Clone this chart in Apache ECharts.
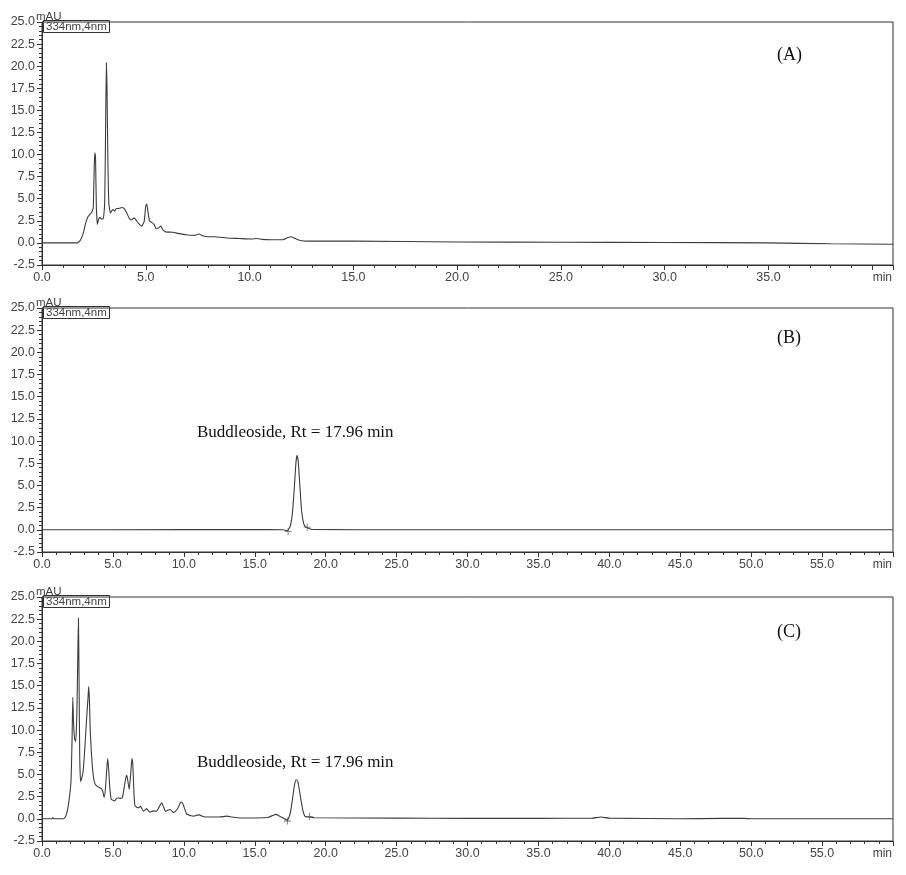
<!DOCTYPE html>
<html>
<head>
<meta charset="utf-8">
<script src="https://cdn.jsdelivr.net/npm/echarts@6/dist/echarts.min.js"></script>
<style>
	html, body { margin: 0; padding: 0; background: #fff; }
	#chart { width: 906px; height: 875px; }
</style>
</head>
<body>
<div id="chart"></div>
<script>
// chromatogram (A): sample trace, run to 41 min
const timeA = [0, 1.0, 1.7, 1.85, 2.0, 2.1, 2.2, 2.3, 2.4, 2.47, 2.52, 2.55, 2.58, 2.62, 2.67, 2.72, 2.78, 2.87, 2.95,
	3.02, 3.06, 3.10, 3.13, 3.17, 3.22, 3.3, 3.42, 3.5, 3.58, 3.7, 3.85, 3.95, 4.08, 4.2, 4.3, 4.42, 4.5, 4.65, 4.8, 4.92,
	5.0, 5.05, 5.1, 5.18, 5.3, 5.4, 5.5, 5.62, 5.72, 5.82, 5.95, 6.3, 6.6, 7.0, 7.35, 7.55, 7.75, 8.0, 8.3, 8.9, 9.5,
	10.1, 10.35, 10.6, 11.0, 11.6, 11.85, 12.0, 12.15, 12.4, 12.8, 15, 20, 25, 30, 35, 38, 41];
const absA = [0, 0, 0, 0.3, 1.2, 2.2, 2.9, 3.2, 3.5, 4.0, 9.0, 10.2, 9.5, 4.0, 2.1, 2.6, 2.9, 2.7, 2.7,
	4.5, 12.0, 20.4, 18.0, 10.0, 4.5, 3.4, 3.8, 3.6, 3.9, 3.9, 4.0, 3.9, 3.4, 2.8, 2.6, 2.8, 2.7, 2.2, 1.9, 2.4,
	4.2, 4.4, 3.6, 2.5, 2.3, 2.1, 1.6, 1.7, 1.9, 1.5, 1.25, 1.2, 1.05, 0.9, 0.85, 1.0, 0.8, 0.7, 0.7, 0.55, 0.5,
	0.45, 0.5, 0.4, 0.35, 0.35, 0.6, 0.7, 0.55, 0.3, 0.2, 0.2, 0.1, 0.08, 0.05, 0.0, -0.1, -0.15];

// chromatogram (B): buddleoside standard
const timeB = [0, 10, 16, 17.0, 17.3, 17.5, 17.65, 17.78, 17.9, 17.98, 18.06, 18.18, 18.3, 18.45, 18.6, 18.75, 19, 25, 60];
const absB = [0, 0.02, 0.03, 0.0, -0.1, 0.4, 1.8, 4.5, 7.5, 8.4, 7.8, 5.0, 2.2, 0.7, 0.3, 0.2, 0.05, 0, 0];

// chromatogram (C): sample trace, run to 60 min
const timeC = [0, 0.7, 0.76, 0.82, 1.5, 1.65, 1.8, 1.94, 2.05, 2.12, 2.17, 2.22, 2.3, 2.38, 2.46, 2.52, 2.57, 2.61, 2.66,
	2.72, 2.8, 2.88, 2.98, 3.07, 3.17, 3.24, 3.29, 3.34, 3.4, 3.48, 3.55, 3.65, 3.75, 3.95, 4.18, 4.3, 4.38, 4.48, 4.56,
	4.63, 4.7, 4.78, 4.88, 5.0, 5.13, 5.25, 5.37, 5.55, 5.67, 5.8, 5.92, 5.98, 6.05, 6.15, 6.25, 6.34, 6.4, 6.48, 6.55,
	6.68, 6.78, 6.95, 7.14, 7.27, 7.38, 7.5, 7.6, 7.85, 8.08, 8.28, 8.44, 8.58, 8.7, 8.85, 9.03, 9.27, 9.55, 9.75, 9.86,
	9.98, 10.2, 10.5, 10.7, 10.95, 11.1, 11.3, 11.6, 12.5, 13.05, 13.4, 14.0, 15.9, 16.3, 16.5, 16.75, 16.95, 17.3, 17.5,
	17.66, 17.8, 17.92, 18.02, 18.12, 18.25, 18.4, 18.53, 18.7, 18.84, 19.2, 25, 30, 35, 38.8, 39.4, 40.0, 45, 48, 49.5, 50, 60];
const absC = [0, 0, 0.15, 0, 0, 0.2, 1.0, 2.5, 4.4, 9.0, 13.7, 11.0, 9.0, 8.7, 12.0, 18.0, 22.6, 16.0, 7.0,
	4.2, 4.6, 5.1, 7.0, 9.3, 11.9, 13.5, 14.9, 13.6, 10.0, 7.5, 5.9, 4.5, 3.9, 3.6, 3.4, 3.0, 2.4, 3.5, 5.5,
	6.8, 5.6, 3.5, 2.2, 2.1, 2.0, 2.3, 2.35, 2.3, 2.4, 3.6, 4.7, 4.9, 4.3, 3.3, 5.0, 6.8, 6.2, 3.0, 1.5,
	1.3, 1.25, 1.4, 0.85, 1.0, 1.15, 0.9, 0.75, 0.9, 0.85, 1.4, 1.8, 1.3, 0.85, 0.95, 1.05, 0.7, 1.1, 1.8, 1.9,
	1.5, 0.55, 0.35, 0.3, 0.42, 0.45, 0.3, 0.2, 0.2, 0.3, 0.2, 0.1, 0.15, 0.4, 0.5, 0.3, 0.15, -0.15, 0.6,
	2.2, 3.8, 4.4, 4.3, 3.5, 2.2, 0.9, 0.3, 0.2, 0.2, 0.12, 0.08, 0.05, 0.05, 0.08, 0.2, 0.08, 0, 0.05, 0.05, 0, 0];

// integration marks (+) at peak start / end
const marksB = [[17.35, -0.2], [18.7, 0.3]];
const marksC = [[17.3, -0.25], [18.85, 0.25]];

const panelLabels = ['(A)', '(B)', '(C)'];
const peakLabel = 'Buddleoside, Rt = 17.96 min';
const xMax = [41, 60, 60];

const ink = '#333';
const labelInk = '#444';
const traceColor = '#3c3c3c';
const sans = 'Liberation Sans';
const serif = 'Liberation Serif';

function pairs(t, v) {
	let out = [];
	for (let i = 0; i < t.length; i++) {
		out.push([t[i], v[i]]);
	}
	return out;
}

const grids = [
	{ left: 42, top: 22, width: 851, height: 243 },
	{ left: 42, top: 308, width: 851, height: 244 },
	{ left: 42, top: 597, width: 851, height: 244 }
];

let xAxes = [];
let yAxes = [];
for (let i = 0; i < 3; i++) {
	const max = xMax[i];
	xAxes.push({
		type: 'value',
		gridIndex: i,
		min: 0,
		max: max,
		interval: 5,
		name: 'min',
		nameLocation: 'end',
		nameGap: -1,
		nameTextStyle: { color: labelInk, fontFamily: sans, fontSize: 12, align: 'right', verticalAlign: 'top', padding: [7, 0, 0, 0] },
		axisLine: { onZero: false, lineStyle: { color: ink, width: 1 } },
		axisTick: { length: 5, lineStyle: { color: ink } },
		minorTick: { show: true, splitNumber: 5, length: 3, lineStyle: { color: ink } },
		splitLine: { show: false },
		axisLabel: {
			color: labelInk, fontFamily: sans, fontSize: 12.5, margin: 6,
			formatter: (v) => (v >= max - 1 ? '' : v.toFixed(1))
		}
	});
	yAxes.push({
		type: 'value',
		gridIndex: i,
		min: -2.5,
		max: 25,
		interval: 2.5,
		axisLine: { onZero: false, lineStyle: { color: ink, width: 1 } },
		axisTick: { length: 5, lineStyle: { color: ink } },
		minorTick: { show: true, splitNumber: 5, length: 3, lineStyle: { color: ink } },
		splitLine: { show: false },
		axisLabel: { color: labelInk, fontFamily: sans, fontSize: 12.5, margin: 7, formatter: (v) => v.toFixed(1) }
	});
}

const traces = [pairs(timeA, absA), pairs(timeB, absB), pairs(timeC, absC)];
let series = [];
traces.forEach((d, i) => {
	series.push({
		type: 'line',
		xAxisIndex: i,
		yAxisIndex: i,
		data: d,
		showSymbol: false,
		smooth: 0.15,
		lineStyle: { color: traceColor, width: 1.1 },
		silent: true
	});
});
[marksB, marksC].forEach((m, k) => {
	series.push({
		type: 'scatter',
		xAxisIndex: k + 1,
		yAxisIndex: k + 1,
		data: m,
		symbol: 'path://M0,4.4H10V5.6H0Z M4.4,0H5.6V10H4.4Z',
		symbolSize: 7,
		itemStyle: { color: '#444' },
		silent: true
	});
});

// unit labels sitting on the top frame line
let graphics = grids.map((g) => ({
	type: 'text',
	left: g.left - 6,
	top: g.top - 11,
	z: 10,
	style: { text: 'mAU', font: '11.5px "' + sans + '"', fill: labelInk }
}));
graphics = graphics.concat([
	{ type: 'text', left: 777, top: 46, style: { text: panelLabels[0], font: '18px "' + serif + '"', fill: '#111' } },
	{ type: 'text', left: 777, top: 329, style: { text: panelLabels[1], font: '18px "' + serif + '"', fill: '#111' } },
	{ type: 'text', left: 777, top: 623, style: { text: panelLabels[2], font: '18px "' + serif + '"', fill: '#111' } },
	{ type: 'text', left: 197, top: 424, style: { text: peakLabel, font: '17px "' + serif + '"', fill: '#111' } },
	{ type: 'text', left: 197, top: 754, style: { text: peakLabel, font: '17px "' + serif + '"', fill: '#111' } }
]);

const chart = echarts.init(document.getElementById('chart'), null, { renderer: 'canvas' });
chart.setOption({
	animation: false,
	backgroundColor: '#fff',
	grid: grids.map((g) => Object.assign({ show: true, borderColor: ink, borderWidth: 1 }, g)),
	title: grids.map((g) => ({
		text: '334nm,4nm',
		left: g.left + 1,
		top: g.top - 2,
		padding: [1, 3, 0, 3],
		borderColor: ink,
		borderWidth: 1,
		textStyle: { color: labelInk, fontFamily: sans, fontSize: 11.5, fontWeight: 'normal' }
	})),
	xAxis: xAxes,
	yAxis: yAxes,
	series: series,
	graphic: graphics
});
</script>
</body>
</html>
